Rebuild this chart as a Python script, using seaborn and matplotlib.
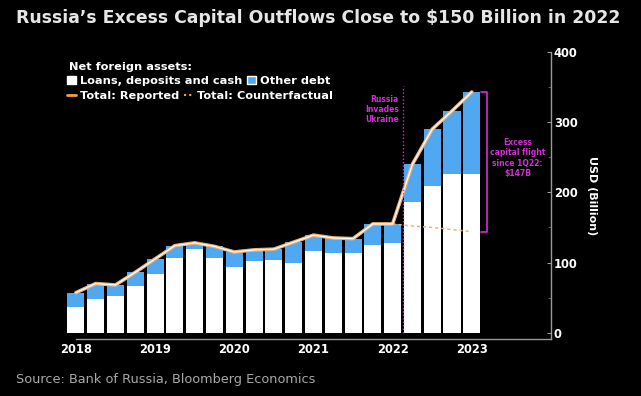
import numpy as np
import pandas as pd
import seaborn as sns
import matplotlib.pyplot as plt
from matplotlib.patches import Patch
from matplotlib.lines import Line2D

# Квартали 2018Q1 .. 2023Q1
quarters = [2018.0, 2018.25, 2018.5, 2018.75,
            2019.0, 2019.25, 2019.5, 2019.75,
            2020.0, 2020.25, 2020.5, 2020.75,
            2021.0, 2021.25, 2021.5, 2021.75,
            2022.0, 2022.25, 2022.5, 2022.75,
            2023.0]
loans = [36, 48, 52, 67, 84, 107, 119, 106, 94, 102, 103, 100,
         116, 114, 113, 125, 128, 186, 209, 226, 226]
total = [57, 70, 68, 86, 105, 124, 128, 123, 115, 118, 119, 129,
         139, 135, 134, 155, 155, 240, 290, 316, 343]
cf_quarters = [2022.0, 2022.25, 2022.5, 2022.75, 2023.0]
counterfactual = [155, 152, 150, 147, 144]
invasion = 2022.13
year_ticks = [2018, 2019, 2020, 2021, 2022, 2023]
y_ticks = [0, 100, 200, 300, 400]

BLUE = "#4fa8f0"
ORANGE = "#e9b27c"
MAGENTA = "#d22fd2"
GREY = "#9a9a9a"

df = pd.DataFrame({"q": quarters, "total": total, "loans": loans})

sns.set_style("dark")
plt.rcParams["font.family"] = ["DejaVu Sans"]

fig = plt.figure(figsize=(6.41, 3.96), dpi=100, facecolor="black")
ax = fig.add_axes([60 / 641, 57 / 396, 491 / 641, 287 / 396])
ax.set_facecolor("black")

# Стовпці: загальна сума (синій), поверх неї кредити/депозити (білий)
sns.barplot(data=df, x="q", y="total", native_scale=True, color=BLUE,
            saturation=1, width=0.86, linewidth=0, ax=ax)
sns.barplot(data=df, x="q", y="loans", native_scale=True, color="white",
            saturation=1, width=0.86, linewidth=0, ax=ax)

# Лінії
sns.lineplot(x=quarters, y=total, color=ORANGE, lw=2.6, ax=ax, zorder=5)
sns.lineplot(x=quarters, y=total, color="white", lw=0.9, ax=ax, zorder=6)
sns.lineplot(x=cf_quarters, y=counterfactual, color=ORANGE, lw=1.1,
             linestyle=(0, (2, 2)), ax=ax, zorder=5)

# Вторгнення
ax.vlines(invasion, 0, 352, color=MAGENTA, lw=1, linestyles=(0, (1, 1.5)), zorder=7)
ax.text(invasion - 0.05, 318, "Russia\nInvades\nUkraine", color=MAGENTA,
        fontsize=5.5, fontweight="bold", ha="right", va="center", linespacing=1.15)

# Дужка надлишкового відтоку
bx = 2023.19
ax.plot([bx - 0.07, bx, bx, bx - 0.07],
        [total[-1], total[-1], counterfactual[-1], counterfactual[-1]],
        color=MAGENTA, lw=1.2, zorder=7)
ax.text(2023.58, 249, "Excess\ncapital flight\nsince 1Q22:\n$147B", color=MAGENTA,
        fontsize=5.5, fontweight="bold", ha="center", va="center", linespacing=1.2)

ax.set_xlim(2017.8, 2024.0)
ax.set_ylim(-9, 400)
ax.set_xticks(year_ticks)
ax.set_xticklabels([str(y) for y in year_ticks])
ax.set_yticks(y_ticks)
ax.set_yticks([50, 150, 250, 350], minor=True)
ax.yaxis.tick_right()
ax.yaxis.set_label_position("right")
ax.set_xlabel("")
ax.set_ylabel("USD (Billion)", rotation=270, color="white", fontsize=8,
              fontweight="bold", labelpad=14)
ax.grid(False)

for s in ["top", "left"]:
    ax.spines[s].set_visible(False)
for s in ["bottom", "right"]:
    ax.spines[s].set_visible(True)
    ax.spines[s].set_color(GREY)
    ax.spines[s].set_linewidth(1)
ax.spines["bottom"].set_bounds(2018, 2024.0)

ax.tick_params(axis="x", colors="white", labelsize=8.3, direction="in",
               length=3, width=0.8, color=GREY, pad=3)
ax.tick_params(axis="y", which="both", colors="white", labelsize=8.3,
               direction="in", length=3, width=0.8, color=GREY, pad=2)
ax.tick_params(axis="y", which="minor", length=2, color="#555555")
for lab in ax.get_xticklabels() + ax.get_yticklabels():
    lab.set_fontweight("bold")

# Легенда
fig.text(69 / 641, 1 - 67 / 396, "Net foreign assets:", color="white",
         fontsize=8.2, fontweight="bold", va="center", ha="left")

h1 = [Patch(facecolor="white"), Patch(facecolor=BLUE)]
leg1 = fig.legend(h1, ["Loans, deposits and cash", "Other debt"], ncol=2,
                  loc="upper left", bbox_to_anchor=(67 / 641, 1 - 76 / 396),
                  frameon=False, handlelength=0.75, handleheight=0.75,
                  handletextpad=0.4, columnspacing=0.4, borderaxespad=0,
                  borderpad=0, prop={"size": 8.2, "weight": "bold"})
for t in leg1.get_texts():
    t.set_color("white")

h2 = [Line2D([], [], color="#f5a040", lw=2),
      Line2D([], [], color="#f5a040", lw=1.5, linestyle=(0, (1, 1.5)))]
leg2 = fig.legend(h2, ["Total: Reported", "Total: Counterfactual"], ncol=2,
                  loc="upper left", bbox_to_anchor=(67 / 641, 1 - 91 / 396),
                  frameon=False, handlelength=0.75, handletextpad=0.4,
                  columnspacing=0.4, borderaxespad=0, borderpad=0,
                  prop={"size": 8.2, "weight": "bold"})
for t in leg2.get_texts():
    t.set_color("white")

fig.text(16 / 641, 1 - 18 / 396, "Russia\u2019s Excess Capital Outflows Close to $150 Billion in 2022",
         color="#e6e6e6", fontsize=12.4, fontweight="bold", va="center", ha="left")
fig.text(16 / 641, 1 - 379 / 396, "Source: Bank of Russia, Bloomberg Economics",
         color="#a8a8a8", fontsize=9.3, va="center", ha="left")

fig.savefig("out.png", dpi=100, facecolor="black")
